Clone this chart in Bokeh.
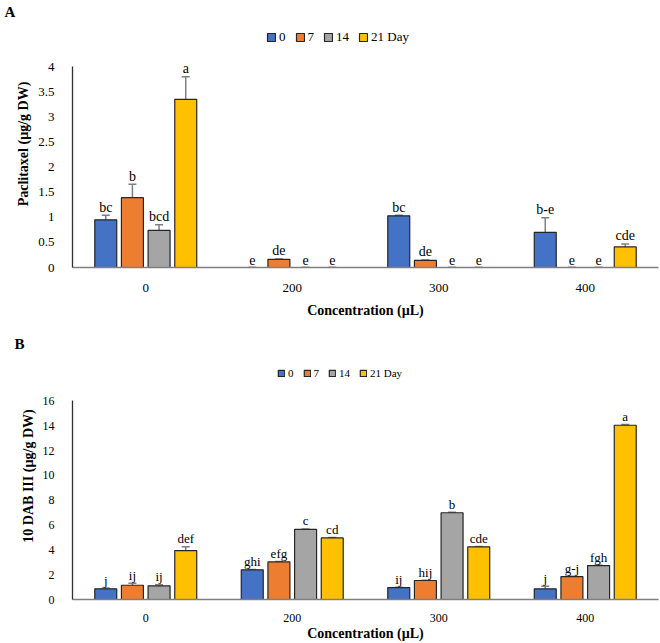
from bokeh.plotting import figure
from bokeh.models import (ColumnDataSource, FactorRange, Range1d, Legend, LegendItem,
                          Whisker, TeeHead, SingleIntervalTicker, CustomJSTickFormatter)
from bokeh.transform import dodge
from bokeh.core.properties import value
from bokeh.layouts import column
from bokeh.embed import file_html
from bokeh.resources import INLINE

concentrations = ["0", "200", "300", "400"]
days = ["0", "7", "14", "21 Day"]
colors = ["#4472C4", "#ED7D31", "#A5A5A5", "#FFC000"]

# Panel A: Paclitaxel, rows = day series, columns = concentration
pac_vals = [
    [0.95, 0.0, 1.03, 0.70],
    [1.39, 0.16, 0.14, 0.0],
    [0.74, 0.0, 0.0, 0.0],
    [3.35, 0.0, 0.0, 0.41],
]
pac_err = [
    [0.09, 0.0, 0.01, 0.29],
    [0.27, 0.01, 0.01, 0.0],
    [0.11, 0.0, 0.0, 0.0],
    [0.45, 0.0, 0.0, 0.06],
]
pac_letters = [
    ["bc", "e", "bc", "b-e"],
    ["b", "de", "de", "e"],
    ["bcd", "e", "e", "e"],
    ["a", "e", "e", "cde"],
]

# Panel B: 10 DAB III
dab_vals = [
    [0.86, 2.39, 0.96, 0.86],
    [1.15, 3.03, 1.53, 1.85],
    [1.10, 5.65, 6.99, 2.73],
    [3.94, 4.96, 4.24, 14.04],
]
dab_err = [
    [0.06, 0.03, 0.03, 0.20],
    [0.15, 0.03, 0.03, 0.03],
    [0.08, 0.03, 0.03, 0.03],
    [0.30, 0.03, 0.03, 0.05],
]
dab_letters = [
    ["j", "ghi", "ij", "j"],
    ["ij", "efg", "hij", "g-j"],
    ["ij", "c", "b", "fgh"],
    ["def", "cd", "cde", "a"],
]

FONT = "Liberation Serif"
FONT_V = value(FONT)
offsets = [-0.273, -0.091, 0.091, 0.273]


def make_panel(vals, errs, letters, yaxis_max, yview_max, interval, ylabel, panel_letter,
               height, b_left, b_top, b_bottom, tick_size, letter_size,
               legend_size, glyph, legend_loc, title_offset, xstand, xlabstand):
    p = figure(x_range=FactorRange(*concentrations), y_range=Range1d(0, yview_max),
               width=660, height=height, output_backend="svg", toolbar_location=None,
               min_border_left=b_left, min_border_right=2, min_border_top=b_top,
               min_border_bottom=b_bottom, title=panel_letter)
    p.outline_line_color = None
    p.xgrid.visible = False
    p.ygrid.visible = False
    p.title.text_font = FONT
    p.title.text_font_style = "bold"
    p.title.text_font_size = "15px"
    p.title.text_color = "#000000"
    p.title.align = "left"
    p.title.offset = title_offset
    p.title.standoff = 2
    items = []
    for i in range(4):
        up = [v + e for v, e in zip(vals[i], errs[i])]
        lo = [v - e for v, e in zip(vals[i], errs[i])]
        src = ColumnDataSource(dict(conc=concentrations, val=vals[i], upper=up,
                                    lower=lo, lab=letters[i]))
        xd = dodge("conc", offsets[i], range=p.x_range)
        r = p.vbar(x=xd, top="val", width=0.15, source=src, fill_color=colors[i],
                   line_color="#262626", line_width=1.2)
        items.append(LegendItem(label=days[i], renderers=[r]))
        w = Whisker(base=xd, upper="upper", lower="lower", source=src,
                    line_color="#7f7f7f", line_width=1.5,
                    upper_head=TeeHead(size=8, line_color="#7f7f7f", line_width=1.5),
                    lower_head=TeeHead(size=8, line_color="#7f7f7f", line_width=1.5))
        p.add_layout(w)
        p.text(x=xd, y="upper", text="lab", source=src, text_align="center",
               text_baseline="alphabetic", y_offset=-8, text_font=FONT_V,
               text_font_size=letter_size, text_color="#000000")
    leg = Legend(items=items, orientation="horizontal", location=legend_loc,
                 glyph_width=glyph, glyph_height=glyph, label_standoff=3, spacing=9,
                 padding=0, margin=0, border_line_color=None, background_fill_alpha=0,
                 label_text_font=FONT, label_text_font_size=legend_size,
                 label_height=glyph, label_width=0, label_text_color="#000000",
                 label_text_baseline="middle")
    p.add_layout(leg)

    p.yaxis.bounds = (0, yaxis_max)
    p.yaxis.ticker = SingleIntervalTicker(interval=interval)
    p.yaxis.formatter = CustomJSTickFormatter(code="return String(Math.round(tick*100)/100);")
    for ax in (p.xaxis[0], p.yaxis[0]):
        ax.major_tick_line_color = None
        ax.minor_tick_line_color = None
        ax.major_label_text_font = FONT
        ax.major_label_text_font_size = tick_size
        ax.major_label_text_color = "#000000"
        ax.axis_label_text_font = FONT
        ax.axis_label_text_font_style = "bold"
        ax.axis_label_text_font_size = "14px"
        ax.axis_label_text_color = "#000000"
    p.xaxis.axis_line_color = "#7f7f7f"
    p.xaxis.axis_line_width = 1.3
    p.yaxis.axis_line_color = "#303030"
    p.yaxis.axis_line_width = 1.3
    p.xaxis.major_label_standoff = xstand
    p.yaxis.major_label_standoff = 12
    p.xaxis.axis_label = "Concentration (µL)"
    p.yaxis.axis_label = ylabel
    p.xaxis.axis_label_standoff = xlabstand
    p.yaxis.axis_label_standoff = 4
    return p


pa = make_panel(pac_vals, pac_err, pac_letters, 4, 4.92, 0.5, "Paclitaxel (µg/g DW)", "A",
                322, 72, 16, 55, "13px", "14px", "13px", 10, (194, 222), -68, 10, 8)
pb = make_panel(dab_vals, dab_err, dab_letters, 16, 19.9, 2, "10 DAB III (µg/g DW)", "B",
                321, 63, 30, 40, "12px", "13px", "11px", 8, (205, 220), -58, 8, 1)

layout = column(pa, pb, spacing=0)
open("out.html", "w").write(file_html(layout, INLINE))
